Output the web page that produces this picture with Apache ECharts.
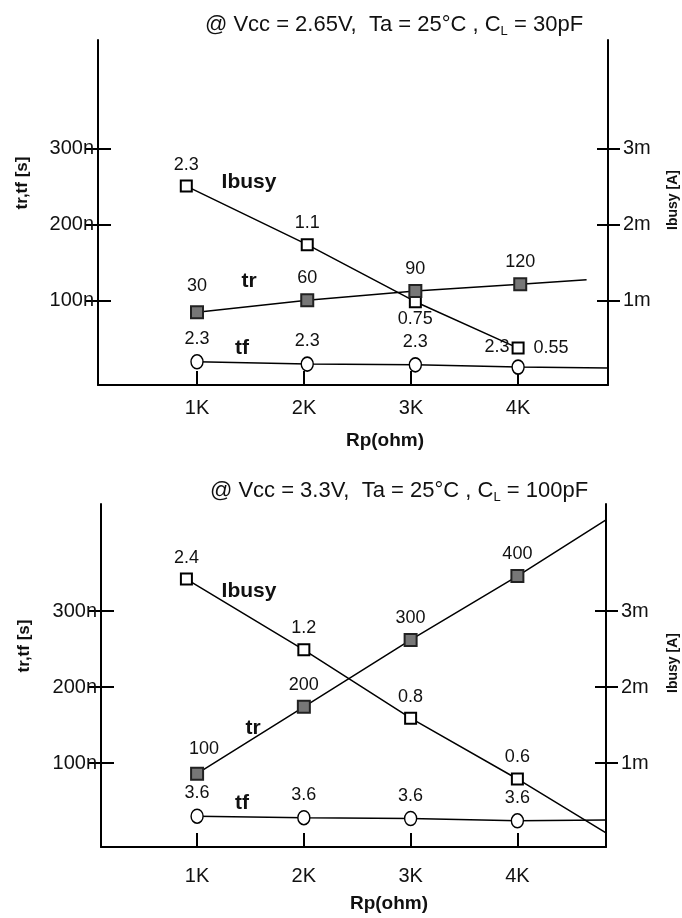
<!DOCTYPE html>
<html>
<head>
<meta charset="utf-8">
<script src="https://cdn.jsdelivr.net/npm/echarts@6/dist/echarts.min.js"></script>
<style>
  html, body { margin: 0; padding: 0; background: #fff; }
  #chart { width: 682px; height: 918px; }
</style>
</head>
<body>
<div id="chart"></div>
<script>
// Rp ticks (kOhm) and axis ticks
const rpTicks = [1, 2, 3, 4]
const timeTicks = [100, 200, 300]   // ns
const currentTicks = [1, 2, 3]      // mA

// top panel: Vcc = 2.65V, CL = 30pF (positions as drawn, labels as printed)
const topIbusyX = [0.9, 2.03, 3.04, 4.0]
const topIbusyY = [2.51, 1.74, 0.99, 0.38]
const topIbusyLabels = ['2.3', '1.1', '0.75', '0.55']
const topTrX = [1.0, 2.03, 3.04, 4.02, 4.64]
const topTrY = [85, 101, 113, 122, 128]
const topTrLabels = ['30', '60', '90', '120']
const topTfX = [1.0, 2.03, 3.04, 4.0, 4.84]
const topTfY = [20, 17, 16, 13, 12]
const topTfLabels = ['2.3', '2.3', '2.3', '2.3']

// bottom panel: Vcc = 3.3V, CL = 100pF
const botIbusyX = [0.9, 2.0, 3.0, 4.0, 4.83]
const botIbusyY = [3.42, 2.49, 1.59, 0.79, 0.08]
const botIbusyLabels = ['2.4', '1.2', '0.8', '0.6']
const botTrX = [1.0, 2.0, 3.0, 4.0, 4.83]
const botTrY = [86, 174, 262, 346, 420]
const botTrLabels = ['100', '200', '300', '400']
const botTfX = [1.0, 2.0, 3.0, 4.0, 4.83]
const botTfY = [30, 28, 27, 24, 25]
const botTfLabels = ['3.6', '3.6', '3.6', '3.6']

const FONT = 'Liberation Sans, Arial, sans-serif'
const BLACK = '#000'

const chart = echarts.init(document.getElementById('chart'))

function xAxisCfg(gridIndex, min, max, labelMargin) {
  return {
    type: 'value',
    gridIndex,
    min,
    max,
    axisLine: { onZero: false, lineStyle: { color: BLACK, width: 2 } },
    axisTick: { inside: true, length: 14, customValues: rpTicks, lineStyle: { color: BLACK, width: 2 } },
    axisLabel: { customValues: rpTicks, formatter: v => v + 'K', margin: labelMargin, fontSize: 20, color: '#111', fontFamily: FONT },
    splitLine: { show: false }
  }
}

// each side gets two axes so the ticks cross the axis line
function yAxesCfg(gridIndex, tMin, tMax) {
  const base = {
    type: 'value',
    gridIndex,
    splitLine: { show: false },
    axisLine: { onZero: false, lineStyle: { color: BLACK, width: 2 } }
  }
  return [
    Object.assign({}, base, {
      position: 'left', min: tMin, max: tMax,
      axisTick: { length: 12, customValues: timeTicks, lineStyle: { color: BLACK, width: 2 } },
      axisLabel: { customValues: timeTicks, formatter: v => v + 'n', margin: 4, fontSize: 20, color: '#111', fontFamily: FONT }
    }),
    Object.assign({}, base, {
      position: 'left', min: tMin, max: tMax,
      axisLine: { show: false },
      axisTick: { inside: true, length: 13, customValues: timeTicks, lineStyle: { color: BLACK, width: 2 } },
      axisLabel: { show: false }
    }),
    Object.assign({}, base, {
      position: 'right', min: tMin / 100, max: tMax / 100,
      axisTick: { length: 12, customValues: currentTicks, lineStyle: { color: BLACK, width: 2 } },
      axisLabel: { customValues: currentTicks, formatter: v => v + 'm', margin: 15, fontSize: 20, color: '#111', fontFamily: FONT }
    }),
    Object.assign({}, base, {
      position: 'right', min: tMin / 100, max: tMax / 100,
      axisLine: { show: false },
      axisTick: { inside: true, length: 11, customValues: currentTicks, lineStyle: { color: BLACK, width: 2 } },
      axisLabel: { show: false }
    })
  ]
}

const markerStyles = {
  open: { symbol: 'rect', symbolSize: 11, itemStyle: { color: '#fff', borderColor: BLACK, borderWidth: 2 } },
  filled: { symbol: 'rect', symbolSize: 12, itemStyle: { color: '#777', borderColor: '#222', borderWidth: 2 } },
  circle: { symbol: 'circle', symbolSize: [12, 14], itemStyle: { color: '#fff', borderColor: BLACK, borderWidth: 1.5 } }
}

function makeSeries(xIdx, yIdx, xs, ys, labels, kind, labelFix) {
  const data = xs.map((x, i) => {
    const item = { value: [x, ys[i]] }
    if (i >= labels.length) {
      item.symbol = 'none'
      item.label = { show: false }
    } else if (labelFix && labelFix[i]) {
      item.label = labelFix[i]
    }
    return item
  })
  return Object.assign({
    type: 'line',
    xAxisIndex: xIdx,
    yAxisIndex: yIdx,
    data,
    showSymbol: true,
    lineStyle: { color: BLACK, width: 1.5 },
    label: {
      show: true,
      position: 'top',
      distance: 6,
      fontSize: 18,
      color: '#111',
      fontFamily: FONT,
      formatter: p => labels[p.dataIndex] || ''
    },
    emphasis: { disabled: true },
    z: kind === 'filled' ? 4 : 3
  }, markerStyles[kind])
}

function txt(x, y, text, opts) {
  return {
    type: 'text',
    x, y,
    rotation: (opts && opts.rotation) || 0,
    style: {
      text,
      fontSize: (opts && opts.fontSize) || 21,
      fontWeight: 'bold',
      fontFamily: FONT,
      fill: '#111',
      align: 'center',
      verticalAlign: 'middle'
    }
  }
}

const titleRich = {
  sub: { fontSize: 13, lineHeight: 16, verticalAlign: 'bottom', fontFamily: FONT, color: '#111' }
}

chart.setOption({
  animation: false,
  title: [
    {
      text: '@ Vcc = 2.65V,  Ta = 25°C , C{sub|L} = 30pF',
      left: 389, top: 7, textAlign: 'center',
      textStyle: { fontSize: 22, fontWeight: 'normal', color: '#111', fontFamily: FONT, lineHeight: 26, rich: titleRich }
    },
    {
      text: '@ Vcc = 3.3V,  Ta = 25°C , C{sub|L} = 100pF',
      left: 394, top: 473, textAlign: 'center',
      textStyle: { fontSize: 22, fontWeight: 'normal', color: '#111', fontFamily: FONT, lineHeight: 26, rich: titleRich }
    }
  ],
  grid: [
    { left: 98, right: 74, top: 40, height: 345 },
    { left: 101, right: 76, top: 504, height: 343 }
  ],
  xAxis: [
    xAxisCfg(0, 0.075, 4.84, 13),
    xAxisCfg(1, 0.1, 4.83, 19)
  ],
  yAxis: [].concat(
    yAxesCfg(0, -10.5, 443),
    yAxesCfg(1, -10.5, 440.8)
  ),
  series: [
    makeSeries(0, 2, topIbusyX, topIbusyY, topIbusyLabels, 'open', {
      2: { position: 'bottom', distance: 2 },
      3: { position: 'right', distance: 9 }
    }),
    makeSeries(0, 0, topTfX, topTfY, topTfLabels, 'circle', {
      3: { offset: [-21, 3] }
    }),
    makeSeries(0, 0, topTrX, topTrY, topTrLabels, 'filled', {
      0: { offset: [0, -4] }
    }),
    makeSeries(1, 6, botIbusyX, botIbusyY, botIbusyLabels, 'open'),
    makeSeries(1, 4, botTfX, botTfY, botTfLabels, 'circle'),
    makeSeries(1, 4, botTrX, botTrY, botTrLabels, 'filled', {
      0: { offset: [7, -3] }
    })
  ],
  graphic: [
    txt(249, 182, 'Ibusy'),
    txt(249, 281, 'tr'),
    txt(242, 348, 'tf'),
    txt(249, 591, 'Ibusy'),
    txt(253, 728, 'tr'),
    txt(242, 803, 'tf'),
    txt(22, 183, 'tr,tf [s]', { rotation: Math.PI / 2, fontSize: 17 }),
    txt(673, 200, 'Ibusy [A]', { rotation: Math.PI / 2, fontSize: 14 }),
    txt(24, 646, 'tr,tf [s]', { rotation: Math.PI / 2, fontSize: 17 }),
    txt(673, 663, 'Ibusy [A]', { rotation: Math.PI / 2, fontSize: 14 }),
    txt(385, 441, 'Rp(ohm)', { fontSize: 19 }),
    txt(389, 904, 'Rp(ohm)', { fontSize: 19 })
  ]
})
</script>
</body>
</html>
